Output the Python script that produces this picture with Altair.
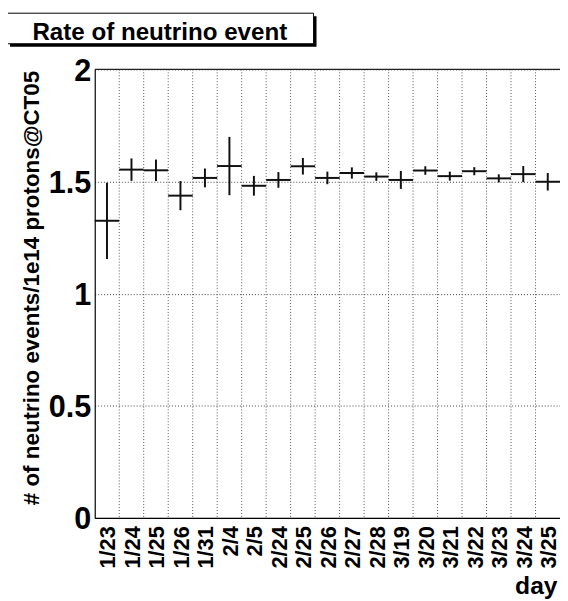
import json
import altair as alt
import pandas as pd

days = ["1/23", "1/24", "1/25", "1/26", "1/31", "2/4", "2/5", "2/24", "2/25", "2/26",
        "2/27", "2/28", "3/19", "3/20", "3/21", "3/22", "3/23", "3/24", "3/25"]
rate = [1.325, 1.553, 1.550, 1.437, 1.516, 1.569, 1.481, 1.507, 1.568, 1.516,
        1.538, 1.522, 1.507, 1.549, 1.524, 1.546, 1.514, 1.533, 1.499]
err = [0.170, 0.050, 0.048, 0.065, 0.042, 0.130, 0.044, 0.035, 0.037, 0.028,
       0.025, 0.019, 0.040, 0.019, 0.020, 0.018, 0.018, 0.036, 0.039]
y_ticks = [0, 0.5, 1, 1.5, 2]

n = len(days)
df = pd.DataFrame({
    "day": days,
    "lo": list(range(n)),
    "hi": [i + 1 for i in range(n)],
    "mid": [i + 0.5 for i in range(n)],
    "rate": rate,
    "ylo": [r - e for r, e in zip(rate, err)],
    "yhi": [r + e for r, e in zip(rate, err)],
})
bounds = pd.DataFrame({"b": list(range(1, n))})

FONT = "Liberation Sans"
W, H = 472, 455

label_expr = json.dumps(days) + "[floor(datum.value)]"

xscale = alt.Scale(domain=[0, n], nice=False, zero=False)
yscale = alt.Scale(domain=[0, 2], nice=False)

xaxis = alt.Axis(values=[i + 0.5 for i in range(n)], labelExpr=label_expr,
                 labelAngle=270, labelAlign="right", labelBaseline="middle",
                 labelFont=FONT, labelFontSize=22, labelFontWeight="bold",
                 labelColor="black", labelPadding=8, labelOffset=1, ticks=False, grid=False,
                 domainColor="black", domainWidth=1.2, labelOverlap=False,
                 labelSeparation=0, labelBound=False,
                 title="day", titleFont=FONT, titleFontSize=25, titleFontWeight="bold",
                 titleColor="black", titleAlign="right", titleBaseline="alphabetic",
                 titleX=469, titleY=77)
yaxis = alt.Axis(values=y_ticks, format="~g", labelFont=FONT, labelFontSize=31,
                 labelFontWeight="bold", labelColor="black", labelPadding=4,
                 labelBaseline="middle", labelOffset=2,
                 ticks=False, grid=True, gridDash=[1, 2], gridColor="#444",
                 gridWidth=1, domainColor="black", domainWidth=1.2,
                 title="# of neutrino events/1e14 protons@CT05", titleFont=FONT,
                 titleFontSize=22.7, titleFontWeight="bold", titleColor="black",
                 titleAngle=270, titleAlign="right", titleBaseline="alphabetic",
                 titleX=-57, titleY=1)

base = alt.Chart(df)

horiz = base.mark_rule(color="#111", strokeWidth=2).encode(
    x=alt.X("lo:Q", scale=xscale, axis=xaxis),
    x2="hi:Q",
    y=alt.Y("rate:Q", scale=yscale, axis=yaxis),
)
vert = base.mark_rule(color="#111", strokeWidth=2).encode(
    x=alt.X("mid:Q", scale=xscale, axis=xaxis),
    y=alt.Y("ylo:Q", scale=yscale, axis=yaxis),
    y2="yhi:Q",
)
vgrid = alt.Chart(bounds).mark_rule(color="#555", strokeDash=[1, 2], strokeWidth=1).encode(
    x=alt.X("b:Q", scale=xscale, axis=xaxis)
)
one = alt.Data(values=[{"t": "Rate of neutrino event"}])
top = alt.Chart(one).mark_rule(color="#222", strokeWidth=1.2).encode(
    y=alt.value(0), x=alt.value(0), x2=alt.value(W)
)
shadow = alt.Chart(one).mark_rect(color="black").encode(
    x=alt.value(-86), x2=alt.value(225), y=alt.value(-54), y2=alt.value(-23)
)
box = alt.Chart(one).mark_rect(fill="white", stroke="black", strokeWidth=1).encode(
    x=alt.value(-89), x2=alt.value(222), y=alt.value(-57), y2=alt.value(-26)
)
ttl = alt.Chart(one).mark_text(font=FONT, fontSize=24.5, fontWeight="bold", color="black",
                               align="center", baseline="alphabetic").encode(
    text="t:N", x=alt.value(66), y=alt.value(-30)
)

chart = alt.layer(vgrid, horiz, vert, top, shadow, box, ttl).properties(
    width=W, height=H, autosize="none",
    padding={"left": 88, "top": 58, "right": 0, "bottom": 78},
    background="white",
).configure_view(strokeWidth=0).configure_axis(labelOverlap=False)

chart.save("out.html", embed_options={"renderer": "svg", "actions": False})
